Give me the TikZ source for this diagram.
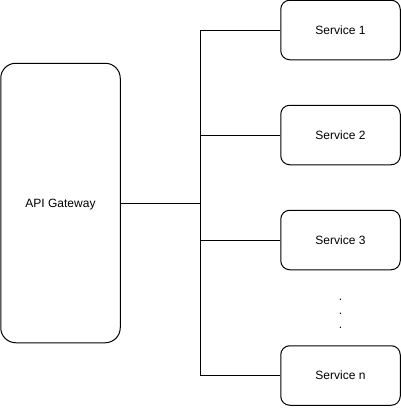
\documentclass[tikz,border=0pt]{standalone}
\usepackage{fontspec}
\setmainfont{Liberation Sans}
\usetikzlibrary{positioning}

\begin{document}
\begin{tikzpicture}[x=1pt, y=-1pt, line width=1pt,
    service/.style={rectangle, draw, rounded corners=9pt, minimum width=119.5pt, minimum height=59.5pt, inner sep=0pt, anchor=center, font=\fontsize{12}{14}\selectfont},
    gatebox/.style={rectangle, draw, rounded corners=15pt, minimum width=119.5pt, minimum height=279.5pt, inner sep=0pt, text depth=0pt, anchor=center, font=\fontsize{12}{14}\selectfont}]

      \useasboundingbox (0,0) rectangle (401,415);

      \node[gatebox] (gateway) at (60.5,203) {API Gateway};

      \node[service] (svc1) at (340.5,30) {Service 1};
      \node[service] (svc2) at (340.5,135) {Service 2};
      \node[service] (svc3) at (340.5,240) {Service 3};
      \node[service] (svcn) at (340.5,375.5) {Service n};

      \node[align=center, inner sep=0pt, font=\fontsize{12}{14.3}\selectfont] (dots) at (340.5,314) {.\\.\\.};

      \coordinate (bus) at (200.5,203);

      \draw (gateway.east) -- (bus);
      \draw (svc1.west) -| (bus) |- (svcn.west);
      \draw (svc2.west) -- (svc2.west -| bus);
      \draw (svc3.west) -- (svc3.west -| bus);

    \end{tikzpicture}
\end{document}
